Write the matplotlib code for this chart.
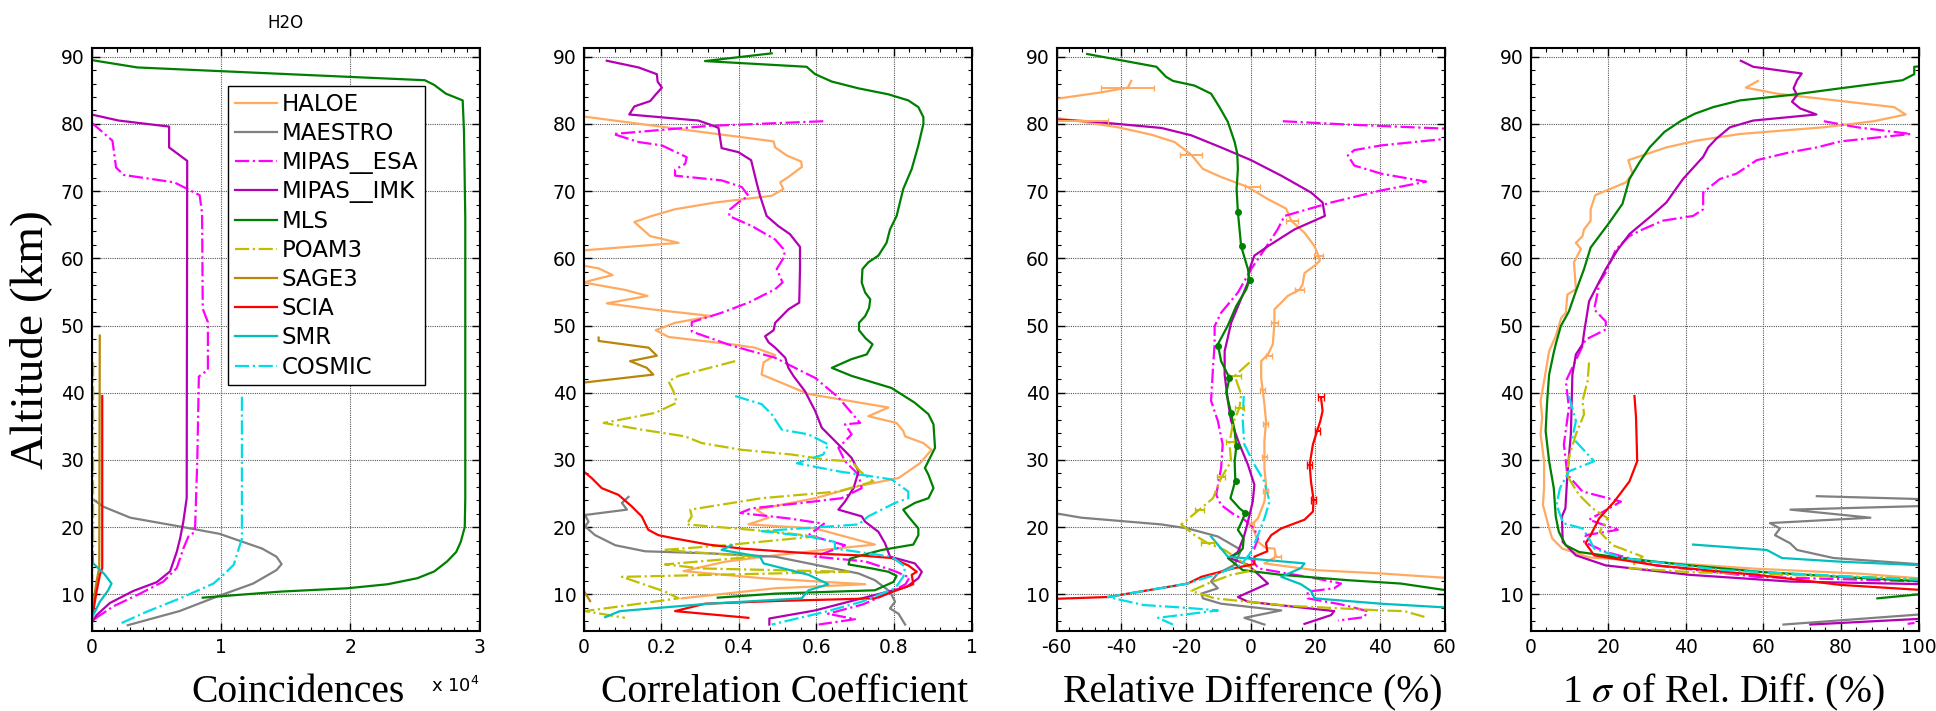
import matplotlib.pyplot as plt
import numpy as np
from matplotlib.ticker import MultipleLocator

# Each curve is a list of (value, altitude in km).

# --- Coincidences (counts) ---
haloe_coinc = [(50, 86.5), (50, 13.0)]
maestro_coinc = [(0, 24.3), (900, 23.05), (3000, 21.4), (6800, 20.1), (9900, 19.0), (13200, 16.8),
                 (14300, 15.6), (14700, 14.5), (14300, 13.6), (12500, 11.6), (9900, 9.8),
                 (6800, 7.5), (2800, 5.4)]
mipas_esa_coinc = [(0, 80.2), (1620, 77.5), (1900, 73.5), (2500, 72.4), (6400, 71.3), (8360, 69.4),
                   (8550, 66.7), (8600, 52.5), (9000, 50.5), (9000, 43.4), (8300, 42.4), (8180, 30.0),
                   (8000, 19.3), (7490, 18.6), (7100, 16.8), (6590, 13.9), (5560, 11.9),
                   (3750, 10.1), (1680, 8.2), (130, 6.2), (0, 5.7)]
mipas_imk_coinc = [(0, 90.0), (0, 81.4), (2100, 80.5), (6000, 79.6), (6000, 76.5), (7400, 74.5),
                   (7360, 24.3), (7100, 20.8), (6850, 18.3), (6590, 16.3), (6070, 13.4),
                   (5040, 11.8), (3230, 10.5), (1420, 8.7), (390, 6.9), (0, 5.7)]
mls_coinc = [(0, 89.5), (3550, 88.4), (25770, 86.5), (26500, 85.8), (27400, 84.5), (28700, 83.5),
             (28800, 78.9), (28900, 66.0), (28900, 24.2), (28860, 20.0), (28550, 17.8),
             (28200, 16.3), (27500, 14.9), (26500, 13.4), (25200, 12.4), (22900, 11.5),
             (19800, 10.9), (14600, 10.4), (8600, 9.5)]
poam3_coinc = [(120, 44.5), (120, 17.0), (60, 12.0), (0, 8.0)]
sage3_coinc = [(640, 48.5), (600, 14.0), (400, 12.0), (150, 9.0), (0, 7.0)]
scia_coinc = [(830, 39.5), (830, 13.9), (650, 12.9), (390, 10.4), (130, 7.4), (0, 5.9)]
smr_coinc = [(0, 17.3), (130, 14.6), (1000, 13.0), (1550, 11.6), (1290, 10.6), (650, 8.9),
             (130, 6.9), (0, 6.2)]
cosmic_coinc = [(11630, 39.4), (11630, 18.3), (11240, 15.9), (11000, 14.4), (10200, 12.9),
                (9430, 11.6), (6850, 9.4), (4260, 7.4), (2070, 5.5)]

# --- Correlation coefficient ---
haloe_corr = [(0, 81.1), (0.49, 77.4), (0.494, 76.5), (0.524, 75.3), (0.561, 74.4), (0.563, 73.6),
              (0.528, 72.1), (0.507, 71.3), (0.515, 70.3), (0.485, 69.3), (0.339, 68.3),
              (0.236, 67.3), (0.176, 66.3), (0.131, 65.4), (0.172, 63.3), (0.245, 62.3),
              (0.004, 61.2), (-0.05, 60.0), (0, 58.9), (0.039, 58.5), (0.075, 57.5), (0.039, 57.0),
              (0, 56.4), (0.107, 55.3), (0.165, 54.4), (0.06, 53.3), (0.176, 52.4), (0.331, 51.4),
              (0.236, 50.4), (0.186, 49.3), (0.219, 48.3), (0.382, 47.2), (0.442, 46.7),
              (0.494, 45.6), (0.464, 44.5), (0.459, 42.7), (0.58, 39.8), (0.786, 37.8),
              (0.734, 36.5), (0.807, 35.5), (0.824, 34.3), (0.829, 33.5), (0.876, 32.5),
              (0.897, 31.5), (0.867, 29.5), (0.837, 28.3), (0.812, 27.3), (0.709, 26.1),
              (0.597, 24.3), (0.446, 22.6), (0.477, 21.4), (0.425, 20.4), (0.597, 19.8),
              (0.751, 17.4), (0.648, 16.8), (0.494, 15.8), (0.365, 14.85), (0.258, 13.45),
              (0.459, 12.4), (0.726, 11.5), (0.494, 10.9), (0.253, 9.4)]
maestro_corr = [(0.116, 24.5), (0.099, 23.6), (0.112, 22.6), (0.004, 21.8), (0.013, 20.8),
                (0.004, 20.1), (0.03, 18.8), (0.082, 17.3), (0.159, 16.4), (0.322, 16.1),
                (0.494, 15.6), (0.58, 14.6), (0.709, 13.1), (0.751, 12.1), (0.79, 10.4),
                (0.803, 8.9), (0.79, 7.9), (0.812, 7.1), (0.829, 5.5)]
mipas_esa_corr = [(0.618, 80.4), (0.322, 79.7), (0.077, 78.5), (0.142, 77.3), (0.202, 76.8),
                  (0.266, 75.05), (0.262, 74.05), (0.236, 73.2), (0.236, 72.3), (0.356, 71.6),
                  (0.408, 70.6), (0.425, 69.3), (0.399, 68.3), (0.378, 67.3), (0.375, 66.3),
                  (0.434, 64.8), (0.494, 62.8), (0.515, 61.4), (0.519, 60.4), (0.498, 58.4),
                  (0.513, 56.4), (0.494, 55.4), (0.425, 53.4), (0.356, 51.9), (0.279, 50.5),
                  (0.279, 49.1), (0.382, 47.0), (0.494, 45.2), (0.545, 43.7), (0.597, 42.2),
                  (0.657, 39.3), (0.713, 35.5), (0.674, 35.3), (0.691, 33.8), (0.657, 31.8),
                  (0.674, 29.8), (0.709, 27.8), (0.717, 25.8), (0.665, 24.3), (0.563, 23.6),
                  (0.434, 22.8), (0.404, 22.1), (0.528, 21.3), (0.62, 20.5), (0.58, 18.8),
                  (0.674, 17.3), (0.597, 15.6), (0.726, 14.9), (0.80, 13.5), (0.84, 12.5),
                  (0.83, 11.5), (0.78, 10.0), (0.72, 8.5), (0.63, 7.1), (0.70, 6.3), (0.606, 5.5)]
mipas_imk_corr = [(0.06, 89.4), (0.142, 88.4), (0.189, 87.4), (0.191, 86.3), (0.202, 85.4),
                  (0.185, 84.3), (0.172, 83.4), (0.131, 82.6), (0.118, 81.4), (0.296, 80.5),
                  (0.326, 79.9), (0.348, 79.4), (0.356, 76.4), (0.399, 75.8), (0.432, 74.6),
                  (0.446, 71.3), (0.455, 69.3), (0.472, 66.3), (0.502, 64.8), (0.532, 63.6),
                  (0.558, 61.7), (0.558, 58.4), (0.556, 53.4), (0.528, 52.4), (0.494, 50.4),
                  (0.49, 49.3), (0.468, 48.4), (0.477, 47.5), (0.494, 46.7), (0.52, 45.2),
                  (0.528, 43.7), (0.541, 42.5), (0.571, 40.2), (0.597, 37.3), (0.614, 34.8),
                  (0.657, 32.3), (0.691, 30.3), (0.709, 28.3), (0.696, 25.8), (0.674, 23.8),
                  (0.657, 22.6), (0.717, 21.6), (0.726, 20.8), (0.76, 19.3), (0.777, 17.6),
                  (0.79, 15.6), (0.854, 14.6), (0.872, 13.35), (0.863, 12.4), (0.833, 11.1),
                  (0.751, 9.9), (0.597, 7.6), (0.479, 6.4), (0.479, 5.5)]
mls_corr = [(0.485, 90.5), (0.313, 89.35), (0.575, 88.5), (0.597, 87.4), (0.64, 86.3), (0.708, 85.3),
            (0.786, 84.4), (0.837, 83.5), (0.863, 82.5), (0.876, 81.0), (0.876, 80.0), (0.863, 76.8),
            (0.846, 73.3), (0.824, 70.3), (0.807, 66.3), (0.79, 64.3), (0.781, 62.3), (0.76, 60.4),
            (0.734, 59.4), (0.719, 58.4), (0.717, 56.4), (0.726, 54.9), (0.739, 53.9),
            (0.736, 52.6), (0.726, 51.4), (0.71, 50.4), (0.71, 49.3), (0.727, 48.1),
            (0.745, 47.2), (0.73, 45.7), (0.691, 45.0), (0.64, 43.7), (0.691, 42.5),
            (0.794, 40.7), (0.854, 38.5), (0.889, 36.8), (0.902, 35.3), (0.906, 31.8),
            (0.88, 28.8), (0.889, 27.8), (0.902, 25.8), (0.889, 24.3), (0.854, 23.6),
            (0.824, 22.6), (0.837, 21.6), (0.863, 19.8), (0.863, 18.8), (0.85, 17.4),
            (0.769, 16.6), (0.717, 15.8), (0.687, 15.3), (0.683, 14.45), (0.743, 13.85),
            (0.786, 13.35), (0.807, 12.75), (0.799, 11.85), (0.751, 10.6), (0.494, 10.1),
            (0.346, 9.5)]
poam3_corr = [(0.391, 44.7), (0.245, 42.5), (0.219, 41.7), (0.232, 40.2), (0.24, 38.5), (0.185, 37.0),
              (0.052, 35.5), (0.15, 34.5), (0.262, 33.5), (0.305, 32.5), (0.408, 31.5),
              (0.537, 30.8), (0.631, 30.0), (0.691, 29.8), (0.713, 28.3), (0.747, 26.8),
              (0.657, 25.3), (0.459, 24.3), (0.275, 22.6), (0.279, 21.6), (0.266, 20.4),
              (0.494, 19.3), (0.597, 18.6), (0.365, 17.3), (0.206, 16.6), (0.442, 15.6),
              (0.21, 14.45), (0.305, 13.85), (0.683, 13.35), (0.099, 12.6), (0.21, 10.4),
              (0.245, 9.4), (0.004, 7.5), (0.107, 6.5)]
sage3_corr = [(0.039, 48.2), (0.039, 47.7), (0.168, 46.7), (0.189, 45.5), (0.12, 44.7), (0.163, 43.7),
              (0.18, 42.7), (0.0, 41.5), (0.0, 10.6), (0.017, 9.0)]
scia_corr = [(0, 28.3), (0.021, 27.3), (0.047, 25.8), (0.09, 24.8), (0.124, 23.1), (0.15, 21.6),
             (0.167, 19.6), (0.193, 18.8), (0.236, 18.3), (0.322, 17.4), (0.408, 16.8), (0.58, 16.1),
             (0.709, 15.8), (0.794, 15.4), (0.837, 14.3), (0.859, 13.35), (0.846, 12.9),
             (0.85, 11.5), (0.751, 9.4), (0.494, 9.0), (0.313, 8.6), (0.236, 7.5), (0.425, 6.5)]
smr_corr = [(0.382, 17.3), (0.356, 16.6), (0.455, 15.6), (0.464, 14.6), (0.58, 12.9), (0.631, 11.5),
            (0.58, 10.6), (0.562, 9.4), (0.322, 8.6), (0.094, 7.5), (0.056, 6.6)]
cosmic_corr = [(0.391, 39.5), (0.459, 38.3), (0.485, 36.8), (0.511, 34.5), (0.58, 33.8),
               (0.631, 32.3), (0.618, 30.8), (0.55, 29.5), (0.657, 28.3), (0.794, 27.1),
               (0.837, 25.3), (0.837, 24.3), (0.803, 23.6), (0.734, 21.6), (0.709, 20.4),
               (0.459, 19.4), (0.58, 18.6), (0.648, 17.8), (0.648, 16.8), (0.794, 15.6),
               (0.829, 14.1), (0.824, 12.6), (0.803, 10.9), (0.717, 8.9), (0.623, 7.4),
               (0.485, 5.5)]

# --- Relative difference (%) ---
haloe_diff = [(-36.9, 86.4), (-37.9, 85.4), (-46.1, 84.7), (-62, 83.6), (-62, 81.0), (-60, 80.9),
              (-41, 79.5), (-30.7, 78.4), (-23.5, 77.3), (-19.9, 76.0), (-18.3, 75.4),
              (-14.7, 73.3), (-9.1, 72.1), (-0.8, 70.6), (5.4, 68.8), (11, 67.4), (12.6, 65.6),
              (16.7, 63.8), (19.8, 61.8), (21, 60.4), (21.4, 59.6), (19.8, 58.9), (16.7, 57.8),
              (16.1, 56.1), (15.1, 55.3), (11.5, 54.4), (9.5, 53.4), (7.4, 52.4), (7.4, 50.4),
              (6.9, 47.2), (5.4, 45.7), (3.3, 44.7), (3.3, 42.2), (4.3, 38.3), (4.8, 35.8),
              (4.3, 32.8), (4.3, 28.8), (4.8, 26.3), (4.3, 23.8), (2.3, 21.3), (0.2, 20.3),
              (1.2, 19.3), (2.3, 17.8), (4.8, 16.9), (7.4, 16.8), (7.9, 15.6), (4.3, 14.6),
              (19.8, 13.6), (40.4, 13.1), (62, 12.4)]
maestro_diff = [(-62, 22.2), (-52.3, 21.4), (-27.6, 20.4), (-19.4, 19.8), (-10.1, 18.6), (-2.9, 16.6),
                (-4.9, 14.4), (-10.1, 13.1), (-12.2, 11.9), (-10.1, 10.9), (-15.2, 10.1),
                (-14.7, 9.4), (-9.1, 8.6), (9.5, 7.6), (-1.9, 6.5), (4.3, 5.5)]
mipas_esa_diff = [(10, 80.4), (30.1, 79.9), (65, 79.2), (65, 78.0), (40.4, 76.8), (32.1, 76.1),
                  (30.1, 75.3), (32.1, 73.8), (40.4, 72.6), (54.3, 71.4), (40.4, 70.1),
                  (24.9, 68.3), (10.5, 66.3), (8.4, 64.3), (4.3, 61.3), (0.2, 58.4), (-3.9, 54.9),
                  (-9.1, 51.9), (-11.1, 49.9), (-11.1, 47.2), (-11.6, 43.7), (-12.2, 38.8),
                  (-10.1, 35.8), (-8.6, 32.3), (-9.1, 28.8), (-10.6, 24.8), (-9.1, 23.3),
                  (-4.9, 21.8), (-1.9, 21.1), (1.2, 19.8), (2.3, 18.3), (1.2, 16.8), (-0.8, 15.8),
                  (2.5, 13.85), (19.8, 12.4), (28, 11.6), (25.9, 10.9), (17.7, 10.4), (17.7, 9.4),
                  (28, 8.5), (36.2, 7.5), (35.2, 6.6), (27, 6.1)]
mipas_imk_diff = [(-62, 80.7), (-50.3, 80.4), (-27.6, 79.4), (-18.3, 78.3), (-9.1, 76.5), (0.2, 74.6),
                  (9.5, 72.3), (18.7, 69.8), (22.3, 68.3), (23, 66.3), (13.6, 64.3), (5.4, 61.8),
                  (1.2, 60.4), (-0.3, 58.4), (-0.8, 56.4), (-3.4, 53.4), (-6, 50.4), (-7.5, 47.2),
                  (-8, 46.2), (-8, 42.7), (-7, 38.8), (-6, 35.8), (-3.4, 32.3), (-0.8, 29.3),
                  (1.2, 26.3), (0.7, 23.8), (-0.8, 20.8), (-1.9, 18.8), (-3.1, 17.3), (-3.9, 16.3),
                  (-6.5, 15.4), (-0.8, 14.4), (5.4, 11.6), (-3.9, 9.6), (-0.8, 8.9), (25.9, 7.5),
                  (24.9, 6.9), (16.7, 5.6)]
mls_diff = [(-50.5, 90.4), (-29.1, 88.5), (-26.1, 87.0), (-24, 86.4), (-17.3, 85.7), (-12.2, 84.5),
            (-9.6, 82.5), (-7, 80.3), (-4.9, 77.3), (-4.1, 75.6), (-3.9, 73.3), (-4.3, 70.3),
            (-3.9, 66.9), (-2.9, 61.8), (-0.8, 58.4), (-0.3, 56.8), (-1.3, 55.4), (-4.4, 52.9),
            (-7, 50.0), (-10.1, 47.2), (-9.1, 44.7), (-6.5, 42.2), (-7.5, 40.0), (-6, 37.0),
            (-4.9, 34.3), (-4.4, 32.0), (-4.9, 29.8), (-4.7, 26.9), (-6.2, 24.3), (-3.4, 22.8),
            (-1.6, 22.1), (-2.9, 20.6), (-3.9, 19.6), (-2.1, 18.3), (-2.4, 16.8), (-3.9, 16.1),
            (-7, 15.4), (-2.4, 13.6), (9.5, 12.9), (30.1, 12.1), (46.5, 11.6), (62, 10.5)]
poam3_diff = [(-0.3, 44.5), (-4.9, 42.5), (-2.9, 39.8), (-3.4, 37.8), (-5.5, 35.3), (-6.5, 32.5),
              (-6, 29.8), (-9.1, 27.3), (-11.6, 24.3), (-15.8, 22.6), (-21.4, 20.4), (-17.3, 18.8),
              (-13.2, 17.6), (-8, 16.6), (-2.9, 14.9), (1.2, 13.6), (-6, 12.9), (-13.2, 11.6),
              (-18.3, 10.5), (-11.1, 9.4), (11.5, 8.3), (40.4, 7.6), (47.6, 7.5), (54.8, 6.5)]
scia_diff = [(21.8, 39.3), (22.3, 37.3), (21.6, 35.8), (20.6, 34.3), (19.3, 32.3), (18.3, 29.3),
             (18.7, 26.8), (19.5, 24.1), (19.3, 22.3), (16.7, 21.1), (9.5, 19.8), (6.4, 18.8),
             (4.8, 17.6), (5.2, 16.4), (1.2, 15.6), (1.2, 14.5), (-4.9, 13.9), (-15.2, 12.6),
             (-19.4, 11.6), (-31.7, 10.6), (-44.1, 9.6), (-62, 9.3)]
smr_diff = [(-12.2, 18.6), (-7, 15.6), (16.7, 14.6), (15.6, 13.9), (9.5, 12.6), (15.6, 11.5),
            (18.7, 10.5), (19.8, 9.4), (40.4, 8.6), (62, 8.0)]
cosmic_diff = [(-2.1, 39.5), (-2.4, 35.8), (-1.9, 32.3), (1.2, 29.3), (4.3, 26.8), (5.9, 23.8),
               (4.3, 21.3), (2.3, 18.8), (0.2, 16.3), (-2.9, 14.4), (-11.1, 12.9), (-19.4, 11.6),
               (-31.7, 10.6), (-44.1, 9.6), (-33, 8.4), (-20, 8.0), (-10.1, 7.6), (-28.6, 6.5),
               (-24, 5.5)]

# error bars on the relative difference panel: altitude, value, half width
haloe_err_alt = [85.4, 80.5, 75.4, 70.6, 65.6, 60.4, 55.3, 50.4, 45.4, 40.4, 35.4, 30.4, 25.4, 20.4, 15.6]
haloe_err_val = [-38, -52, -18.3, 0.6, 12.8, 21, 15.1, 7.4, 5.8, 3.8, 4.7, 4.3, 4.6, 0.3, 8.4]
haloe_err_size = [8.2, 8, 3.4, 2.4, 1.8, 1.3, 1.3, 1.0, 0.9, 0.8, 0.7, 0.7, 0.7, 0.8, 1.0]
poam3_err_alt = [42.5, 37.7, 32.6, 27.5, 22.6, 17.6]
poam3_err_val = [-4.7, -3.4, -6.4, -9.1, -15.8, -13.2]
poam3_err_size = [1.8, 1.5, 1.2, 1.2, 1.5, 2.0]
scia_err_alt = [39.3, 34.3, 29.3, 24.1]
scia_err_val = [21.8, 20.6, 18.3, 19.5]
scia_err_size = [0.9, 0.8, 0.8, 0.7]
mls_dot_alt = [66.9, 61.8, 56.8, 47.0, 42.2, 37.0, 32.0, 26.9, 22.1]
mls_dot_val = [-3.9, -2.7, -0.3, -9.9, -6.5, -6.0, -4.2, -4.6, -1.6]

# --- 1 sigma of relative difference (%) ---
haloe_sigma = [(58.6, 86.4), (55.5, 85.4), (63.5, 84.5), (93.7, 82.5), (96.7, 81.4), (88.5, 80.4),
               (75.6, 79.5), (54, 78.5), (42.7, 77.5), (35, 76.5), (25.2, 74.6), (26.3, 72.6),
               (24.6, 71.3), (16.7, 69.4), (15.5, 67.3), (15.5, 65.6), (13.8, 64.3), (13.4, 63.3),
               (11.7, 62.3), (13, 61.4), (11.2, 59.4), (11.7, 55.4), (9.5, 54.6), (9.1, 51.9),
               (7.9, 51.1), (6.5, 48.4), (4.8, 46.2), (3.5, 41.7), (2.6, 38.8), (3, 36.3),
               (2.6, 33.8), (3.5, 29.8), (3.5, 25.8), (3.2, 23.3), (3.9, 21.8), (4.8, 19.8),
               (5.6, 18.3), (8.2, 16.8), (15.1, 15.5), (32.4, 14.8), (58.3, 13.8), (84.2, 13.1),
               (102, 12.3)]
maestro_sigma = [(73.8, 24.6), (105, 24.1), (105, 23.2), (67, 22.6), (87.6, 21.4), (61.7, 20.6),
                 (64.3, 19.8), (63, 18.8), (66.9, 17.6), (68.7, 16.6), (78.1, 15.4), (102, 14.4),
                 (110, 10.0), (105, 7.2), (65.2, 5.5)]
mipas_esa_sigma = [(75.6, 80.4), (84.2, 79.5), (98, 78.5), (79.9, 77.4), (73.8, 76.5), (67, 75.8),
                   (58.3, 74.6), (53.1, 72.6), (48.8, 71.8), (44.5, 69.8), (44.5, 67.3), (41.9, 66.3),
                   (34.1, 65.6), (28.9, 64.3), (25.5, 63.3), (22, 61.3), (19.4, 57.9), (17.7, 56.4),
                   (17.3, 54.9), (16.4, 52.4), (19.4, 50.6), (19.4, 49.4), (14.2, 47.9), (9.1, 41.7),
                   (9.9, 37.8), (8.6, 32.3), (9.5, 27.8), (13.4, 25.3), (23.3, 23.8), (15.1, 21.1),
                   (22.5, 19.6), (14.3, 18.8), (13.8, 17.8), (19.4, 16.3), (32.4, 14.3),
                   (58.3, 12.6), (102, 11.9), (110, 8.0), (102, 6.0), (97.2, 5.6)]
mipas_imk_sigma = [(54.2, 89.4), (57.4, 88.5), (69.9, 87.5), (68.7, 86.5), (67.8, 85.3), (68.7, 84.3),
                   (67.4, 83.3), (69.5, 82.3), (73.7, 81.4), (57.4, 80.5), (51.4, 79.5), (47.9, 77.8),
                   (45.8, 76.5), (44.5, 75.1), (39.3, 71.8), (35, 68.3), (31.1, 66.3), (25.5, 63.6),
                   (22.5, 61.3), (19.4, 58.4), (15.1, 53.6), (13.8, 48.9), (13.4, 47.2),
                   (11.7, 45.7), (10.8, 42.7), (10.4, 33.8), (9.5, 27.8), (9, 22.8), (8.1, 21.6),
                   (8.3, 17.8), (11.7, 15.8), (19.4, 14.3), (41, 12.9), (66.9, 11.9), (102, 11.5),
                   (110, 8.0), (102, 6.4), (72.1, 5.5)]
mls_sigma = [(101, 88.6), (98.9, 88.5), (98.9, 87.4), (95.9, 86.5), (79.9, 85.3), (66.9, 84.3),
             (54, 83.5), (47.1, 82.5), (42.3, 81.5), (38.9, 80.5), (34.5, 78.8), (30.7, 76.5),
             (28.1, 74.3), (25.5, 71.8), (23.7, 68.1), (20.3, 65.3), (15.5, 61.6), (13.8, 58.4),
             (11.7, 55.1), (9.9, 52.1), (7.8, 49.9), (6.5, 47.2), (6, 46.0), (4.8, 42.7),
             (4.3, 38.8), (3.9, 34.3), (4.8, 29.8), (6, 25.8), (6.5, 21.6), (7.3, 19.3),
             (9.1, 17.3), (12.5, 16.3), (23.7, 15.4), (41, 14.3), (60, 13.3), (79.9, 12.6),
             (102, 11.9), (110, 10.5), (102, 10.1), (89.4, 9.4)]
poam3_sigma = [(15.1, 44.5), (14.7, 41.7), (13.4, 38.8), (13.8, 36.8), (11.7, 33.8), (10.1, 30.8),
               (9.3, 27.8), (12.5, 24.8), (16, 22.8), (19.9, 21.3), (17.8, 19.3), (21.2, 17.3),
               (28.9, 15.6), (25.5, 13.9), (41, 13.3), (102, 12.3)]
scia_sigma = [(26.8, 39.5), (27.2, 36.3), (27.5, 29.8), (25.5, 26.8), (21.6, 23.8), (17.7, 21.3),
              (15.5, 18.8), (14.2, 17.6), (16.4, 15.8), (32.4, 14.3), (58.3, 12.9), (79.9, 11.4),
              (102, 10.6)]
smr_sigma = [(41.9, 17.4), (60.9, 16.6), (64.8, 15.4), (80, 14.85), (102, 14.3)]
cosmic_sigma = [(9.9, 39.5), (11.7, 35.8), (10.8, 33.3), (16.4, 29.8), (9.9, 28.3), (7.6, 25.8),
                (6.7, 23.3), (8.4, 20.6), (13.4, 19.8), (15.1, 18.3), (16.4, 16.8), (23.7, 15.4),
                (49.6, 13.6), (102, 12.1)]

SERIES = ['HALOE', 'MAESTRO', 'MIPAS__ESA', 'MIPAS__IMK', 'MLS',
          'POAM3', 'SAGE3', 'SCIA', 'SMR', 'COSMIC']
STYLE = {
    'HALOE': dict(color='#ffaa60', ls='-'),
    'MAESTRO': dict(color='#808080', ls='-'),
    'MIPAS__ESA': dict(color='#ff00ff', ls='-.'),
    'MIPAS__IMK': dict(color='#b400b4', ls='-'),
    'MLS': dict(color='#008000', ls='-'),
    'POAM3': dict(color='#bfbf00', ls='-.'),
    'SAGE3': dict(color='#b8860b', ls='-'),
    'SCIA': dict(color='#ff0000', ls='-'),
    'SMR': dict(color='#00bfbf', ls='-'),
    'COSMIC': dict(color='#00dde6', ls='-.'),
}

panel_coinc = dict(zip(SERIES, [haloe_coinc, maestro_coinc, mipas_esa_coinc, mipas_imk_coinc, mls_coinc,
                                poam3_coinc, sage3_coinc, scia_coinc, smr_coinc, cosmic_coinc]))
panel_corr = dict(zip(SERIES, [haloe_corr, maestro_corr, mipas_esa_corr, mipas_imk_corr, mls_corr,
                               poam3_corr, sage3_corr, scia_corr, smr_corr, cosmic_corr]))
panel_diff = {'HALOE': haloe_diff, 'MAESTRO': maestro_diff, 'MIPAS__ESA': mipas_esa_diff,
              'MIPAS__IMK': mipas_imk_diff, 'MLS': mls_diff, 'POAM3': poam3_diff,
              'SCIA': scia_diff, 'SMR': smr_diff, 'COSMIC': cosmic_diff}
panel_sigma = {'HALOE': haloe_sigma, 'MAESTRO': maestro_sigma, 'MIPAS__ESA': mipas_esa_sigma,
               'MIPAS__IMK': mipas_imk_sigma, 'MLS': mls_sigma, 'POAM3': poam3_sigma,
               'SCIA': scia_sigma, 'SMR': smr_sigma, 'COSMIC': cosmic_sigma}

plt.rcParams['font.family'] = 'DejaVu Sans'
SERIF = 'Liberation Serif'
LW = 1.6

fig = plt.figure(figsize=(19.36, 7.11), dpi=100)
lefts = [91.5, 583.5, 1056.5, 1530.5]
axes = [fig.add_axes([l / 1936, 80 / 711, 388 / 1936, 583.3 / 711]) for l in lefts]


def draw(ax, curves, scale=1.0):
    for name in SERIES:
        if name not in curves:
            continue
        arr = np.array(curves[name], dtype=float)
        ax.plot(arr[:, 0] / scale, arr[:, 1], lw=LW, label=name, **STYLE[name])


def dress(ax, xlim, xmajor, xminor, ticklabels=None):
    ax.set_xlim(*xlim)
    ax.set_ylim(4.54, 91.34)
    ax.xaxis.set_major_locator(MultipleLocator(xmajor))
    ax.xaxis.set_minor_locator(MultipleLocator(xminor))
    ax.yaxis.set_major_locator(MultipleLocator(10))
    ax.yaxis.set_minor_locator(MultipleLocator(2))
    if ticklabels is not None:
        ax.set_xticks(np.arange(xlim[0], xlim[1] + 1e-9, xmajor))
        ax.set_xticklabels(ticklabels)
    ax.tick_params(which='both', direction='in', top=True, right=True, labelsize=13.5, color='black')
    ax.tick_params(which='major', length=5.5, width=1.0, pad=5)
    ax.tick_params(which='minor', length=2.8, width=0.8)
    ax.grid(True, which='major', color='0.35', ls=(0, (1, 1)), lw=0.8)
    for s in ax.spines.values():
        s.set_linewidth(1.5)


a1, a2, a3, a4 = axes
draw(a1, panel_coinc, scale=1e4)
dress(a1, (0, 3), 1, 0.1, ['0', '1', '2', '3'])
draw(a2, panel_corr)
dress(a2, (0, 1), 0.2, 0.04, ['0', '0.2', '0.4', '0.6', '0.8', '1'])
draw(a3, panel_diff)
a3.errorbar(haloe_err_val, haloe_err_alt, xerr=haloe_err_size, fmt='none',
            ecolor=STYLE['HALOE']['color'], elinewidth=1.4, capsize=2.5)
a3.errorbar(poam3_err_val, poam3_err_alt, xerr=poam3_err_size, fmt='none',
            ecolor=STYLE['POAM3']['color'], elinewidth=1.4, capsize=2.5)
a3.errorbar(scia_err_val, scia_err_alt, xerr=scia_err_size, fmt='none',
            ecolor=STYLE['SCIA']['color'], elinewidth=1.4, capsize=3)
a3.plot(mls_dot_val, mls_dot_alt, 'o', color=STYLE['MLS']['color'], ms=4)
dress(a3, (-60, 60), 20, 4, ['-60', '-40', '-20', '0', '20', '40', '60'])
draw(a4, panel_sigma)
dress(a4, (0, 100), 20, 4, ['0', '20', '40', '60', '80', '100'])

a1.set_title('H2O', fontsize=12, pad=14)
a1.text(1.0, -0.104, r'x 10$^4$', transform=a1.transAxes, ha='right', va='baseline', fontsize=13)
a1.set_ylabel('Altitude (km)', family=SERIF, fontsize=34, va='baseline')
a1.yaxis.set_label_coords(-0.128, 0.5)

xlabels = ['Coincidences', 'Correlation Coefficient', 'Relative Difference (%)',
           r'1 $\sigma$ of Rel. Diff. (%)']
xcenters = [0.532, 0.518, 0.505, 0.497]
for ax, lab, xc in zip(axes, xlabels, xcenters):
    ax.set_xlabel(lab, family=SERIF, fontsize=28.5, va='baseline', math_fontfamily='stix')
    ax.xaxis.set_label_coords(xc, -0.122)

leg = a1.legend(loc='upper left', bbox_to_anchor=(228 / 1936, 1 - 86 / 711),
                bbox_transform=fig.transFigure, borderaxespad=0, fontsize=16.5,
                handlelength=1.85, handletextpad=0.2, labelspacing=0.27, borderpad=0.3,
                fancybox=False, framealpha=1, edgecolor='black')
leg.get_frame().set_linewidth(1.0)

fig.savefig('out.png', dpi=100)
